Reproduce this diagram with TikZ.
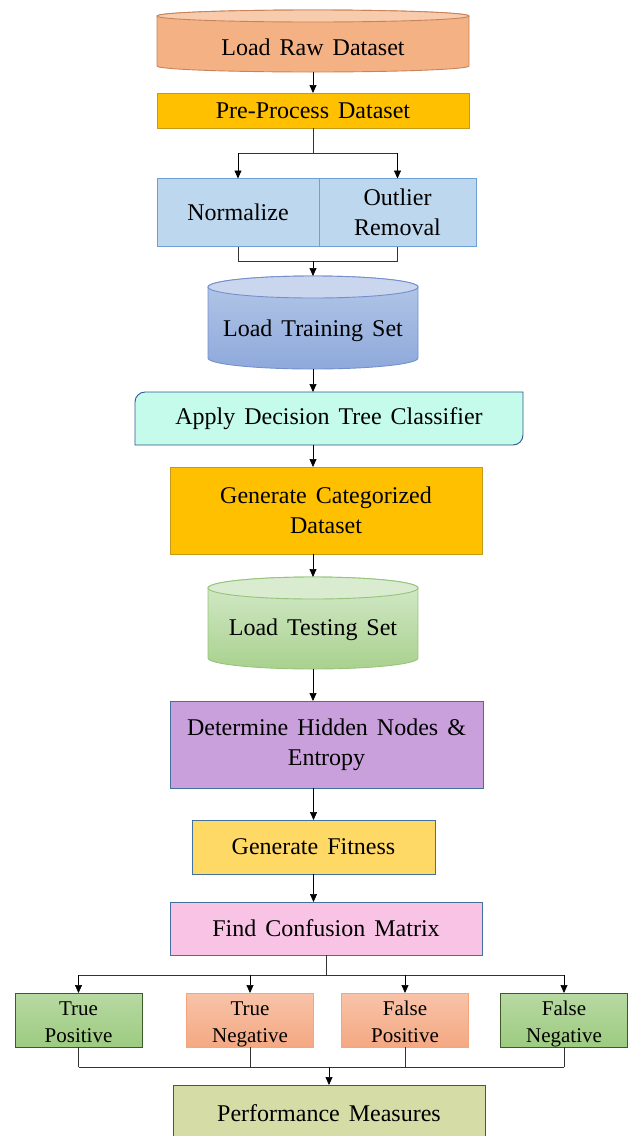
\documentclass[tikz,border=0pt]{standalone}
\usepackage{fontspec}
\setmainfont[WordSpace=1.5]{Liberation Serif}
\usetikzlibrary{arrows.meta,calc}
\definecolor{rawbody}{HTML}{F4B183}
\definecolor{rawlid}{HTML}{F8CBAD}
\definecolor{rawline}{HTML}{C7845A}
\definecolor{gold}{HTML}{FFC000}
\definecolor{goldline}{HTML}{C49A1A}
\definecolor{normfill}{HTML}{BDD7EE}
\definecolor{normline}{HTML}{6E9FD6}
\definecolor{traintop}{HTML}{B4C7E7}
\definecolor{trainbot}{HTML}{8EA9DB}
\definecolor{trainlid}{HTML}{CAD6EE}
\definecolor{trainline}{HTML}{7390CC}
\definecolor{mint}{HTML}{C4FBEA}
\definecolor{navy}{HTML}{2F5597}
\definecolor{testtop}{HTML}{D5EACB}
\definecolor{testbot}{HTML}{A9D18E}
\definecolor{testlid}{HTML}{D9ECCF}
\definecolor{testline}{HTML}{95C47A}
\definecolor{lilac}{HTML}{C9A0DC}
\definecolor{steel}{HTML}{41719C}
\definecolor{butter}{HTML}{FFD966}
\definecolor{pink}{HTML}{F9C3E6}
\definecolor{greentop}{HTML}{B7D9A3}
\definecolor{greenbot}{HTML}{9DCB80}
\definecolor{greenline}{HTML}{3C5A2A}
\definecolor{peachtop}{HTML}{F8C3A9}
\definecolor{peachbot}{HTML}{F4A882}
\definecolor{peachline}{HTML}{F4A57B}
\definecolor{olive}{HTML}{D6DCA5}

\begin{document}
\begin{tikzpicture}[x=1pt,y=-1pt,
		arr/.style={-{Triangle[length=8pt,width=7pt]}, line width=0.7pt},
		link/.style={line width=0.7pt, draw=black!80},
		slot/.style={inner sep=0pt, outer sep=0pt},
		txt/.style={font=\fontsize{24}{30}\selectfont, align=center},
		flat/.style={txt, draw, line width=0.9pt, inner sep=0pt, outer sep=0pt},
		greenbox/.style={flat, draw=greenline, top color=greentop, bottom color=greenbot},
		orangebox/.style={flat, draw=peachline, top color=peachtop, bottom color=peachbot}]
	\useasboundingbox (0,0) rectangle (629,1136);

	\node[slot, minimum width=312pt, minimum height=62pt] (raw) at (313,41) {};
	\draw[draw=rawline, line width=0.9pt, fill=rawbody] ($(raw.north west)+(0,6)$) -- ($(raw.south west)+(0,-6)$) arc[start angle=180, end angle=360, x radius=156pt, y radius=6pt] -- ($(raw.north east)+(0,6)$) arc[start angle=0, end angle=180, x radius=156pt, y radius=6pt] -- cycle;
	\draw[draw=rawline, line width=0.9pt, fill=rawlid] ($(raw.north)+(0,6)$) ellipse[x radius=156pt, y radius=6pt];
	\node[txt] (rawT) at ($(raw.center)+(0,6)$) {Load Raw Dataset};

	\node[flat, fill=gold, draw=goldline, minimum width=312pt, minimum height=35pt] (pre) at (313,110.5) {Pre-Process Dataset};
	\node[flat, fill=normfill, draw=normline, minimum width=162pt, minimum height=68pt] (norm) at (238,212.5) {Normalize};
	\node[flat, fill=normfill, draw=normline, minimum width=157pt, minimum height=68pt] (outl) at (397.5,212.5) {Outlier\\Removal};

	\node[slot, minimum width=210pt, minimum height=93pt] (train) at (313,322.5) {};
	\draw[draw=trainline, line width=0.9pt, top color=traintop, bottom color=trainbot] ($(train.north west)+(0,11)$) -- ($(train.south west)+(0,-11)$) arc[start angle=180, end angle=360, x radius=105pt, y radius=11pt] -- ($(train.north east)+(0,11)$) arc[start angle=0, end angle=180, x radius=105pt, y radius=11pt] -- cycle;
	\draw[draw=trainline, line width=0.9pt, fill=trainlid] ($(train.north)+(0,11)$) ellipse[x radius=105pt, y radius=11pt];
	\node[txt] (trainT) at ($(train.center)+(0,8)$) {Load Training Set};

	\node[slot, minimum width=388pt, minimum height=53pt] (app) at (329,418.5) {};
	\draw[draw=navy, line width=0.9pt, fill=mint] (app.north) [rounded corners=10pt] -- (app.north west) [sharp corners] -- (app.south west) [rounded corners=10pt] -- (app.south east) [sharp corners] -- (app.north east) -- cycle;
	\node[txt] (appT) at (app.center) {Apply Decision Tree Classifier};

	\node[flat, fill=gold, draw=goldline, minimum width=312pt, minimum height=87pt] (cat) at (326,510.5) {Generate Categorized\\Dataset};

	\node[slot, minimum width=210pt, minimum height=92pt] (test) at (313,623) {};
	\draw[draw=testline, line width=0.9pt, top color=testtop, bottom color=testbot] ($(test.north west)+(0,11)$) -- ($(test.south west)+(0,-11)$) arc[start angle=180, end angle=360, x radius=105pt, y radius=11pt] -- ($(test.north east)+(0,11)$) arc[start angle=0, end angle=180, x radius=105pt, y radius=11pt] -- cycle;
	\draw[draw=testline, line width=0.9pt, fill=testlid] ($(test.north)+(0,11)$) ellipse[x radius=105pt, y radius=11pt];
	\node[txt] (testT) at ($(test.center)+(0,7)$) {Load Testing Set};

	\node[flat, fill=lilac, draw=steel, minimum width=313pt, minimum height=87pt] (det) at (326.5,744.5) {Determine Hidden Nodes \&\\Entropy};
	\node[flat, fill=butter, draw=steel, minimum width=243pt, minimum height=54pt] (fit) at (313.5,847) {Generate Fitness};
	\node[flat, fill=pink, draw=steel, minimum width=312pt, minimum height=53pt] (conf) at (326,928.5) {Find Confusion Matrix};

	\foreach \n/\x/\kind/\a/\b in {tp/78.5/greenbox/True/Positive, tn/250/orangebox/True/Negative, fp/405/orangebox/False/Positive, fn/564/greenbox/False/Negative}
		\node[\kind, minimum width=127pt, minimum height=54pt, font=\fontsize{21}{27}\selectfont] (\n) at (\x,1020) {\rule{0pt}{22pt}\a\\\b\rule[-5pt]{0pt}{5pt}};

	\node[flat, fill=olive, draw=navy, minimum width=312pt, minimum height=56pt] (perf) at (329,1113) {Performance Measures};

	\coordinate (split) at (313,153);
	\coordinate (merge) at (313,261);
	\coordinate (fork) at (326,975);
	\coordinate (join) at (330,1067);

	\draw[arr] (raw.south) -- (pre.north);
	\draw[link] (pre.south) -- (split);
	\draw[link] (norm.north |- split) -- (outl.north |- split);
	\draw[arr] (norm.north |- split) -- (norm.north);
	\draw[arr] (outl.north |- split) -- (outl.north);
	\draw[link] (norm.south) -- (norm.south |- merge) -- (outl.south |- merge) -- (outl.south);
	\draw[arr] (merge) -- (train.north);
	\draw[arr] (train.south) -- (train.south |- app.north);
	\draw[arr] (train |- app.south) -- (train |- cat.north);
	\draw[arr] (test |- cat.south) -- (test.north);
	\draw[arr] (test.south) -- (test.south |- det.north);
	\draw[arr] (fit |- det.south) -- (fit.north);
	\draw[arr] (fit.south) -- (fit.south |- conf.north);
	\draw[link] (conf.south) -- (fork);
	\draw[link] (tp.north |- fork) -- (fn.north |- fork);
	\draw[link] (tp.south |- join) -- (fn.south |- join);
	\foreach \n in {tp,tn,fp,fn}{
		\draw[arr] (\n.north |- fork) -- (\n.north);
		\draw[link] (\n.south) -- (\n.south |- join);
	}
	\draw[arr] (perf.north |- join) -- (perf.north);
\end{tikzpicture}
\end{document}
